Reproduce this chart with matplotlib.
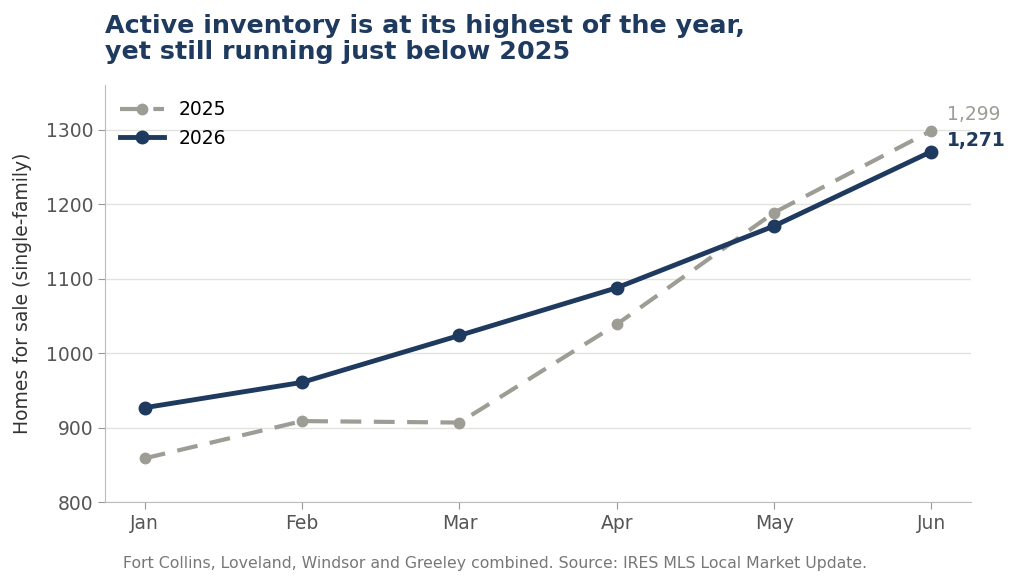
import matplotlib.pyplot as plt

# Data
months = ["Jan", "Feb", "Mar", "Apr", "May", "Jun"]
inv_2025 = [859, 909, 907, 1039, 1189, 1299]
inv_2026 = [927, 961, 1024, 1088, 1171, 1271]

navy = "#1f3a5f"
grey = "#9d9d95"

fig = plt.figure(figsize=(10.24, 5.84), dpi=100)
ax = fig.add_axes([0.103, 0.14, 0.845, 0.714])

x = list(range(len(months)))
ax.plot(x, inv_2025, color=grey, lw=3, ls=(0, (5, 3)), marker="o", ms=7.5, label="2025", zorder=3)
ax.plot(x, inv_2026, color=navy, lw=3.5, marker="o", ms=9, label="2026", zorder=4)

# End labels
ax.annotate(f"{inv_2025[-1]:,}", (x[-1], inv_2025[-1]), xytext=(11, 5), textcoords="offset points",
            color=grey, fontsize=13.5, va="bottom", ha="left")
ax.annotate(f"{inv_2026[-1]:,}", (x[-1], inv_2026[-1]), xytext=(11, 1), textcoords="offset points",
            color=navy, fontsize=13.5, fontweight="bold", va="bottom", ha="left")

ax.set_xlim(-0.25, 5.25)
ax.set_ylim(800, 1360)
ax.set_xticks(x)
ax.set_xticklabels(months)
ax.set_yticks([800, 900, 1000, 1100, 1200, 1300])
ax.tick_params(labelsize=13.5, colors="#555555", length=5, color="#999999")
ax.set_ylabel("Homes for sale (single-family)", fontsize=13.5, color="#333333", labelpad=10)

ax.grid(axis="y", color="#e2e2df", lw=1)
ax.set_axisbelow(True)
for s in ["top", "right"]:
    ax.spines[s].set_visible(False)
for s in ["left", "bottom"]:
    ax.spines[s].set_color("#bbbbbb")

ax.legend(loc="upper left", frameon=False, fontsize=13.5, handlelength=2.3, borderaxespad=0.4)

fig.text(0.103, 0.976, "Active inventory is at its highest of the year,\nyet still running just below 2025",
         fontsize=18.3, fontweight="bold", color=navy, va="top", ha="left", linespacing=1.1)
fig.text(0.12, 0.022, "Fort Collins, Loveland, Windsor and Greeley combined. Source: IRES MLS Local Market Update.",
         fontsize=11.3, color="#777777", ha="left", va="bottom")

fig.savefig("out.png", dpi=100)
